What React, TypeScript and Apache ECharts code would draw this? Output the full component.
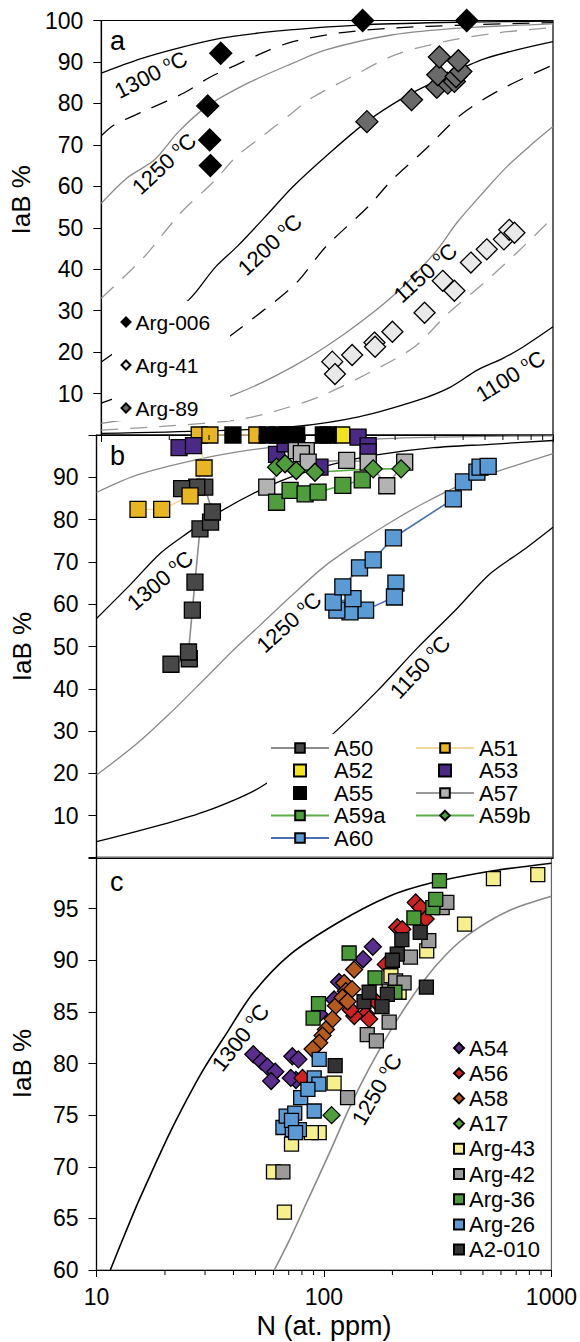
import React, { useEffect, useRef } from 'react';
import * as echarts from 'echarts';

const FONT = '"Liberation Sans", Arial, Helvetica, sans-serif';

// ---------- shared axis ----------
const xMinorTicks = [20, 30, 40, 50, 60, 70, 80, 90, 200, 300, 400, 500, 600, 700, 800, 900];

// ---------- panel a data ----------
const arg006 = [[33.8, 92.1], [29.6, 79.4], [30.2, 71.2], [30.4, 65.0], [143.6, 100], [415, 100]];
const arg41 = [[105.4, 17.7], [108.3, 14.7], [129, 19.3], [162, 22.3], [163, 21.3], [194.5, 24.9], [270, 29.5], [325, 37.2], [366, 34.8], [433, 41.6], [509, 44.8], [606, 47.2], [640, 49.5], [675, 48.8]];
const arg89 = [[150, 75.6], [236.4, 80.9], [306, 83.9], [342, 84.9], [366, 85.3], [309, 86.9], [372, 86.5], [391, 87.7], [381, 90.3], [314, 91.2]];

const aCurve1300 = [[10, 87.3], [15, 90.8], [21.7, 93.3], [33.6, 95.7], [50, 97], [70.5, 97.8], [150, 99], [400, 99.6], [1000, 99.85]];
const aDash1 = [[10, 72.2], [11.4, 74.8], [16, 78.5], [23.2, 82.5], [30, 86.2], [39.7, 89.3], [55, 92.8], [70.5, 94.9], [113, 97], [200, 98.2], [400, 98.9], [1000, 99.5]];
const aCurve1250 = [[10, 55.9], [13, 62], [17.2, 66.4], [22, 73.2], [29.6, 79.4], [45, 85], [70.5, 89.7], [98.6, 92.9], [193, 96.5], [400, 98.2], [1000, 99.2]];
const aDash2 = [[10, 33], [15.5, 43], [22.4, 53.5], [31.4, 61.1], [39.7, 67.2], [50, 71.5], [68.2, 77.2], [83, 80.9], [129, 86.5], [200, 91.7], [330, 94.9], [565, 97], [1000, 98.3]];
const aCurve1200 = [[10, 17.6], [16, 25.5], [24.4, 32.6], [32, 40.5], [40, 45.5], [55, 53.5], [70.5, 59.9], [100, 67.5], [150, 75.6], [220, 81.5], [306, 85.5], [500, 90.8], [1000, 94.9]];
const aDash3 = [[10, 7.7], [20, 14], [30, 20.2], [50.4, 29.4], [72.8, 36.6], [98.6, 45.4], [152, 55.1], [193.5, 61.5], [271, 68.8], [390, 77.2], [584, 83.3], [1000, 89.3]];
const aCurve1150 = [[10, 2.8], [20, 5.5], [38.5, 9.7], [70.5, 16.5], [120, 24.5], [200, 34], [300, 44], [379, 51.5], [500, 59], [627, 64.8], [800, 70], [1000, 74.4]];
const aDash4 = [[10, 1.2], [20, 2.2], [39.6, 3.6], [57.5, 5.6], [92, 9.2], [157, 15.3], [244, 21.3], [344, 29.4], [492, 36.6], [690, 43.9], [1000, 52.5]];
const aCurve1100 = [[10, 0.4], [30, 1], [70.5, 2], [138, 4.4], [253, 8.4], [350, 11.5], [464, 15.7], [600, 18.5], [740, 21.3], [1000, 26.1]];

const aTempLabels = [
  { x: 16.6, y: 86.9, t: '1300', r: 27 },
  { x: 19, y: 65.4, t: '1250', r: 43 },
  { x: 55.8, y: 45.9, t: '1200', r: 43 },
  { x: 272, y: 39.1, t: '1150', r: 42 },
  { x: 649, y: 14.2, t: '1100', r: 32 },
];

// ---------- panel b data ----------
const a50 = [[21.2, 45.8], [25.5, 47.1], [25.3, 48.7], [26.3, 58.6], [27.0, 65.2], [28.4, 77.8], [31.6, 79.4], [32.2, 81.8], [29.8, 87.7], [27.5, 87.7], [23.6, 87.3]];
const a51 = [[15.2, 82.4], [19.3, 82.4], [25.7, 85.6], [29.6, 92.2], [28.2, 100], [31.4, 100], [50.4, 100]];
const a52 = [[118.6, 100], [68, 100]];
const a53 = [[23, 97], [26.6, 97.5], [61.5, 95.4], [67, 97.9], [95.3, 92.4], [140, 99.5], [155, 97.5], [155, 96]];
const a55 = [[39.6, 100], [56, 100], [62, 100], [70, 100], [75.3, 100], [98.6, 100], [103.6, 100]];
const a57 = [[55.7, 87.7], [75, 96.3], [83, 96.3], [79, 95.6], [84.6, 93.6], [124.8, 94], [155, 93.6], [187, 88], [224, 93.6]];
const a59a = [[61.5, 84.1], [70.5, 86.9], [82, 86.1], [93.5, 86.5], [120, 88.1], [146, 89.4]];
const a59b = [[61.5, 92.4], [67, 93.2], [75, 91.6], [90.6, 91.2], [163, 92], [216, 92]];
const a60 = [[205, 65], [202, 61.7], [151, 58.6], [129, 58.2], [113, 58.6], [109, 60.5], [133, 61.3], [120, 64.1], [142, 68.6], [163, 70.5], [200, 75.7], [366, 84.9], [405, 88.9], [464, 91.2], [479, 92.4], [520, 92.6]];

const bCurveTop = [[10, 86.4], [15, 90.5], [26.6, 94], [45, 96.3], [70.5, 97.5], [200, 99.2], [1000, 99.8]];
const bCurve1300 = [[10, 56.6], [14, 64.5], [19, 72], [25, 76.8], [33.6, 81.4], [50, 86.5], [70.5, 90], [110, 93.2], [169, 95.3], [300, 97], [530, 97.8], [1000, 98.7]];
const bCurve1250 = [[10, 19.6], [15, 27], [21, 34.2], [30, 42.5], [39.7, 49.1], [52, 55], [70.5, 61.7], [100, 69], [138, 74.3], [200, 79.8], [270, 83.8], [380, 87.8], [530, 90.8], [1000, 95.6]];
const bCurve1150 = [[10, 3.85], [20.3, 8.2], [30, 11], [49.4, 16], [75, 22.5], [109, 29.4], [170, 39.5], [253, 49.5], [380, 59], [530, 67.2], [750, 73], [1000, 78.2]];

const bTempLabels = [
  { x: 19, y: 65.6, t: '1300', r: 40 },
  { x: 69.7, y: 55.7, t: '1250', r: 42 },
  { x: 262, y: 45.1, t: '1150', r: 47 },
];

// ---------- panel c data ----------
const a54 = [[48.9, 80.9], [53.1, 80.2], [56.4, 79.7], [61.1, 79.2], [58.6, 78.3], [72.6, 80.7], [77.2, 80.4], [75.3, 78.4], [71.5, 78.6], [95.3, 84.8], [110.8, 86.2], [116.5, 87.9], [148.6, 90.1], [164, 91.3]];
const a56 = [[253, 95.6], [266, 95.1], [280, 94.0], [210, 93.2], [221, 93.0], [187, 89.6], [169, 86.0], [153, 84.8], [136, 84.6], [158, 84.3], [131, 85.2], [80.5, 78.6]];
const a58 = [[135.7, 89.1], [122.7, 87.8], [124.8, 87.0], [112.8, 85.6], [109, 84.3], [102, 83.3], [98.6, 82.7], [95.3, 82.0], [89.1, 81.4], [120.6, 86.4], [133, 87.2], [127, 86.0]];
const a17 = [[108, 75.0]];
const arg43 = [[871, 98.3], [556, 97.9], [415, 93.5], [283, 90.9], [197, 88.5], [214, 86.9], [110.8, 78.1], [95.3, 73.3], [72, 72.2], [60, 69.5], [67, 65.6], [88, 73.3]];
const arg42 = [[66, 69.5], [127, 76.7], [155, 82.8], [170, 82.2], [193.5, 84], [193.5, 87], [206.5, 88], [225, 87.8], [240, 90.3], [289, 91.9], [331, 95.1], [347, 95.6]];
const arg36 = [[322, 97.7], [301, 95.1], [248.6, 94.1], [129, 90.7], [167.7, 88.3], [94.6, 85.8], [89.6, 84.4], [205, 86.9], [310, 95.9]];
const arg26 = [[66, 73.8], [68.2, 74.9], [72.6, 73.6], [74.4, 75.2], [90.6, 78.6], [79, 76.7], [78, 73.6], [90.6, 75.4], [72, 74.5], [75, 73.3], [95, 78], [85, 77.5], [95.3, 80.4]];
const a2010 = [[282, 87.4], [220, 92], [265, 92.7], [210, 90.6], [190, 86.7], [150, 86], [158, 86.9], [112, 79.8], [180, 85.5], [200, 90]];

const cCurve1300 = [[11.5, 60], [13, 62.9], [15.2, 66.5], [17.5, 69.5], [20.6, 72.9], [24, 75.8], [29.5, 79.4], [37, 82.8], [48.7, 86.8], [70.5, 90.5], [116.5, 93.7], [193.5, 96.2], [298, 97.5], [530, 98.6], [1000, 99.4]];
const cCurve1250 = [[60.5, 60], [70.5, 62.9], [85, 66.8], [105, 71.2], [130, 75.8], [157, 79.4], [200, 83.5], [270, 87.8], [346, 90.6], [446, 92.7], [650, 94.8], [1000, 96.2]];

const cTempLabels = [
  { x: 43, y: 82.5, t: '1300', r: 52 },
  { x: 171, y: 77.5, t: '1250', r: 60 },
];

// ---------- helpers ----------
const SQUARE_ICON = 'path://M0,0L10,0L10,10L0,10Z';

function curve(data: number[][], gi: number, color: string, dashed = false, width = 1.3) {
  return {
    type: 'line', xAxisIndex: gi, yAxisIndex: gi, data, symbol: 'none', showSymbol: false,
    smooth: 0.3, silent: true, z: 2,
    lineStyle: { color, width, type: dashed ? [17, 12] : 'solid' },
  };
}

function scatter(name: string, data: number[][], gi: number, symbol: string, size: number, color: string) {
  return {
    type: 'scatter', name, xAxisIndex: gi, yAxisIndex: gi, data, symbol, symbolSize: size, clip: false, z: 3,
    itemStyle: { color, borderColor: '#000', borderWidth: 1.3, opacity: 1 },
  };
}

function linked(name: string, data: number[][], gi: number, symbol: string, size: number, color: string, lineColor: string) {
  return {
    type: 'line', name, xAxisIndex: gi, yAxisIndex: gi, data, symbol, symbolSize: size, showSymbol: true, clip: false, z: 3,
    itemStyle: { color, borderColor: '#000', borderWidth: 1.3 },
    lineStyle: { color: lineColor, width: 1.6 },
  };
}

function minorTicks(gi: number, yBase: number, len: number) {
  return {
    type: 'custom', xAxisIndex: gi, yAxisIndex: gi, clip: false, silent: true, z: 5,
    data: xMinorTicks.map((v) => [v, yBase]),
    renderItem: (_p: any, api: any) => {
      const pt = api.coord([api.value(0), api.value(1)]);
      return { type: 'line', shape: { x1: pt[0], y1: pt[1], x2: pt[0], y2: pt[1] + len }, style: { stroke: '#000', lineWidth: 1 } };
    },
  };
}

function tempLabels(gi: number, labels: { x: number; y: number; t: string; r: number }[]) {
  return {
    type: 'scatter', xAxisIndex: gi, yAxisIndex: gi, symbolSize: 0, silent: true, clip: false, z: 4,
    itemStyle: { opacity: 1, color: '#000' },
    data: labels.map((l) => ({ value: [l.x, l.y], label: { rotate: l.r } })),
    label: {
      show: true, position: 'inside', color: '#000', opacity: 1,
      formatter: (p: any) => `{n|${labels[p.dataIndex].t} }{s|o}{n|C}`,
      rich: {
        n: { fontSize: 22, fontFamily: FONT, color: '#000', lineHeight: 24 },
        s: { fontSize: 13, fontFamily: FONT, color: '#000', verticalAlign: 'top', lineHeight: 14 },
      },
    },
  };
}

const GRIDS = [
  { left: 96.5, top: 20.5, width: 456.5, height: 414.5 },
  { left: 96.5, top: 435, width: 456.5, height: 423 },
  { left: 96.5, top: 857, width: 456.5, height: 413 },
];

function buildOption() {
  const xAxes = [0, 1, 2].map((i) => ({
    type: 'log', logBase: 10, min: 10, max: 1000, gridIndex: i,
    axisLine: { show: true, lineStyle: { color: '#000', width: 1.2 } },
    axisTick: { show: i !== 1, length: 7, lineStyle: { color: '#000' } },
    axisLabel: { show: i === 2, fontSize: 23, color: '#000', fontFamily: FONT, margin: 15, formatter: (v: number) => String(Math.round(v)) },
    splitLine: { show: false },
    name: i === 2 ? 'N (at. ppm)' : '',
    nameLocation: 'middle', nameGap: 42,
    nameTextStyle: { fontSize: 27, color: '#000', fontFamily: FONT },
  }));
  const yBase = (i: number) => ({
    type: 'value', gridIndex: i,
    axisLine: { show: true, lineStyle: { color: '#000', width: 1.2 } },
    axisTick: { show: true, length: 8, lineStyle: { color: '#000' } },
    splitLine: { show: false },
    name: 'IaB %', nameLocation: 'middle', nameGap: 62, nameRotate: 90,
    nameTextStyle: { fontSize: 26, color: '#000', fontFamily: FONT, padding: i === 0 ? [0, 0, 0, 56] : 0 },
  });
  const lab = { fontSize: 23, color: '#000', fontFamily: FONT, margin: 18 };
  const yAxes = [
    { ...yBase(0), min: 0, max: 100, interval: 10, axisLabel: { ...lab, formatter: (v: number) => (v === 0 ? '' : String(v)) } },
    { ...yBase(1), min: 0, max: 100, interval: 10, axisLabel: { ...lab, formatter: (v: number) => (v === 0 || v === 100 ? '' : String(v)) } },
    { ...yBase(2), min: 60, max: 100, interval: 5, axisLabel: { ...lab, formatter: (v: number) => (v === 100 ? '' : String(v)) } },
  ];

  const BLACK = '#000';
  const GRAY = '#8a8a8a';

  const series: any[] = [
    // panel a curves
    curve(aCurve1300, 0, BLACK), curve(aDash1, 0, BLACK, true), curve(aCurve1250, 0, GRAY),
    curve(aDash2, 0, '#9a9a9a', true), curve(aCurve1200, 0, BLACK), curve(aDash3, 0, BLACK, true),
    curve(aCurve1150, 0, GRAY), curve(aDash4, 0, '#9a9a9a', true), curve(aCurve1100, 0, BLACK),
    scatter('Arg-006', arg006, 0, 'diamond', 22, '#000'),
    scatter('Arg-41', arg41, 0, 'diamond', 21, '#e9e9e9'),
    scatter('Arg-89', arg89, 0, 'diamond', 22, '#6a6a6a'),
    tempLabels(0, aTempLabels),
    minorTicks(0, 0, 5),
    // panel b
    curve(bCurveTop, 1, GRAY), curve(bCurve1300, 1, BLACK), curve(bCurve1250, 1, GRAY), curve(bCurve1150, 1, BLACK),
    linked('A50', a50, 1, 'rect', 16, '#484848', '#8c8c8c'),
    linked('A51', a51, 1, 'rect', 16, '#e8b523', '#f2d9a0'),
    scatter('A52', a52, 1, 'rect', 16, '#f2e31b'),
    scatter('A53', a53, 1, 'rect', 16, '#4b2a86'),
    scatter('A55', a55, 1, 'rect', 16, '#000'),
    linked('A57', a57, 1, 'rect', 16, '#b3b3b3', '#9a9a9a'),
    linked('A59a', a59a, 1, 'rect', 16, '#4f9e3b', '#5aac46'),
    linked('A59b', a59b, 1, 'diamond', 18, '#4f9e3b', '#5aac46'),
    linked('A60', a60, 1, 'rect', 16, '#5b9bd5', '#4a6fb5'),
    tempLabels(1, bTempLabels),
    // panel c
    curve(cCurve1300, 2, BLACK, false, 1.6), curve(cCurve1250, 2, GRAY, false, 1.6),
    scatter('A54', a54, 2, 'diamond', 17, '#5a2d8e'),
    scatter('A56', a56, 2, 'diamond', 17, '#cc2222'),
    scatter('A58', a58, 2, 'diamond', 17, '#b55a1c'),
    scatter('A17', a17, 2, 'diamond', 17, '#4f9e3b'),
    scatter('Arg-43', arg43, 2, 'rect', 14, '#f6f08c'),
    scatter('Arg-42', arg42, 2, 'rect', 14, '#9b9b9b'),
    scatter('Arg-36', arg36, 2, 'rect', 14, '#4a9a3a'),
    scatter('Arg-26', arg26, 2, 'rect', 14, '#5b9bd5'),
    scatter('A2-010', a2010, 2, 'rect', 14, '#333333'),
    tempLabels(2, cTempLabels),
    minorTicks(2, 60, 5),
  ];

  const legText = (size: number, lh: number) => ({ fontSize: size, lineHeight: lh, color: '#000', fontFamily: FONT });

  const legend = [
    { orient: 'vertical', left: 120.5, top: 311, padding: 0, itemWidth: 9, itemHeight: 9, itemGap: 21, selectedMode: false,
      textStyle: legText(21, 22), data: ['Arg-006', 'Arg-41', 'Arg-89'] },
    { orient: 'vertical', left: 270, top: 737, padding: 0, itemWidth: 58, itemHeight: 12, itemGap: 0.5, selectedMode: false,
      textStyle: legText(22, 20),
      data: [{ name: 'A50' }, { name: 'A52', icon: SQUARE_ICON }, { name: 'A55', icon: SQUARE_ICON }, { name: 'A59a' }, { name: 'A60' }] },
    { orient: 'vertical', left: 415, top: 737, padding: 0, itemWidth: 58, itemHeight: 12, itemGap: 0.5, selectedMode: false,
      textStyle: legText(22, 20),
      data: [{ name: 'A51' }, { name: 'A53', icon: SQUARE_ICON }, { name: 'A57' }, { name: 'A59b' }] },
    { orient: 'vertical', left: 453, top: 1037, padding: 0, itemWidth: 10, itemHeight: 10, itemGap: 3.2, selectedMode: false,
      textStyle: legText(22, 22),
      data: [
        { name: 'A54' }, { name: 'A56' }, { name: 'A58' }, { name: 'A17' },
        { name: 'Arg-43', icon: SQUARE_ICON }, { name: 'Arg-42', icon: SQUARE_ICON }, { name: 'Arg-36', icon: SQUARE_ICON },
        { name: 'Arg-26', icon: SQUARE_ICON }, { name: 'A2-010', icon: SQUARE_ICON },
      ] },
  ];

  const panelLetter = (t: string, x: number, y: number) => ({
    type: 'text', x, y, z: 10, silent: true,
    style: { text: t, fontSize: 27, fontFamily: FONT, fill: '#000', verticalAlign: 'middle', align: 'left' },
  });

  return {
    animation: false,
    backgroundColor: '#fff',
    grid: GRIDS.map((g, i) => ({ ...g, show: true, borderColor: i === 2 ? '#666' : '#000', borderWidth: 1.2, backgroundColor: 'transparent' })),
    xAxis: xAxes,
    yAxis: yAxes,
    legend,
    series,
    graphic: {
      elements: [
        { type: 'rect', z: 3, silent: true, shape: { x: 112, y: 301, width: 118, height: 120 }, style: { fill: '#fff' } },
        { type: 'rect', z: 3, silent: true, shape: { x: 267, y: 734, width: 285, height: 122 }, style: { fill: '#fff' } },
        panelLetter('a', 110, 41),
        panelLetter('b', 110, 456),
        panelLetter('c', 110, 882),
      ],
    },
  };
}

export default function App() {
  const ref = useRef<HTMLDivElement>(null);
  useEffect(() => {
    if (!ref.current) return;
    const chart = echarts.init(ref.current, undefined, { renderer: 'svg' });
    chart.setOption(buildOption() as any);
    return () => chart.dispose();
  }, []);
  return <div ref={ref} style={{ position: 'absolute', left: 0, top: 0, width: 580, height: 1342, background: '#fff' }} />;
}
